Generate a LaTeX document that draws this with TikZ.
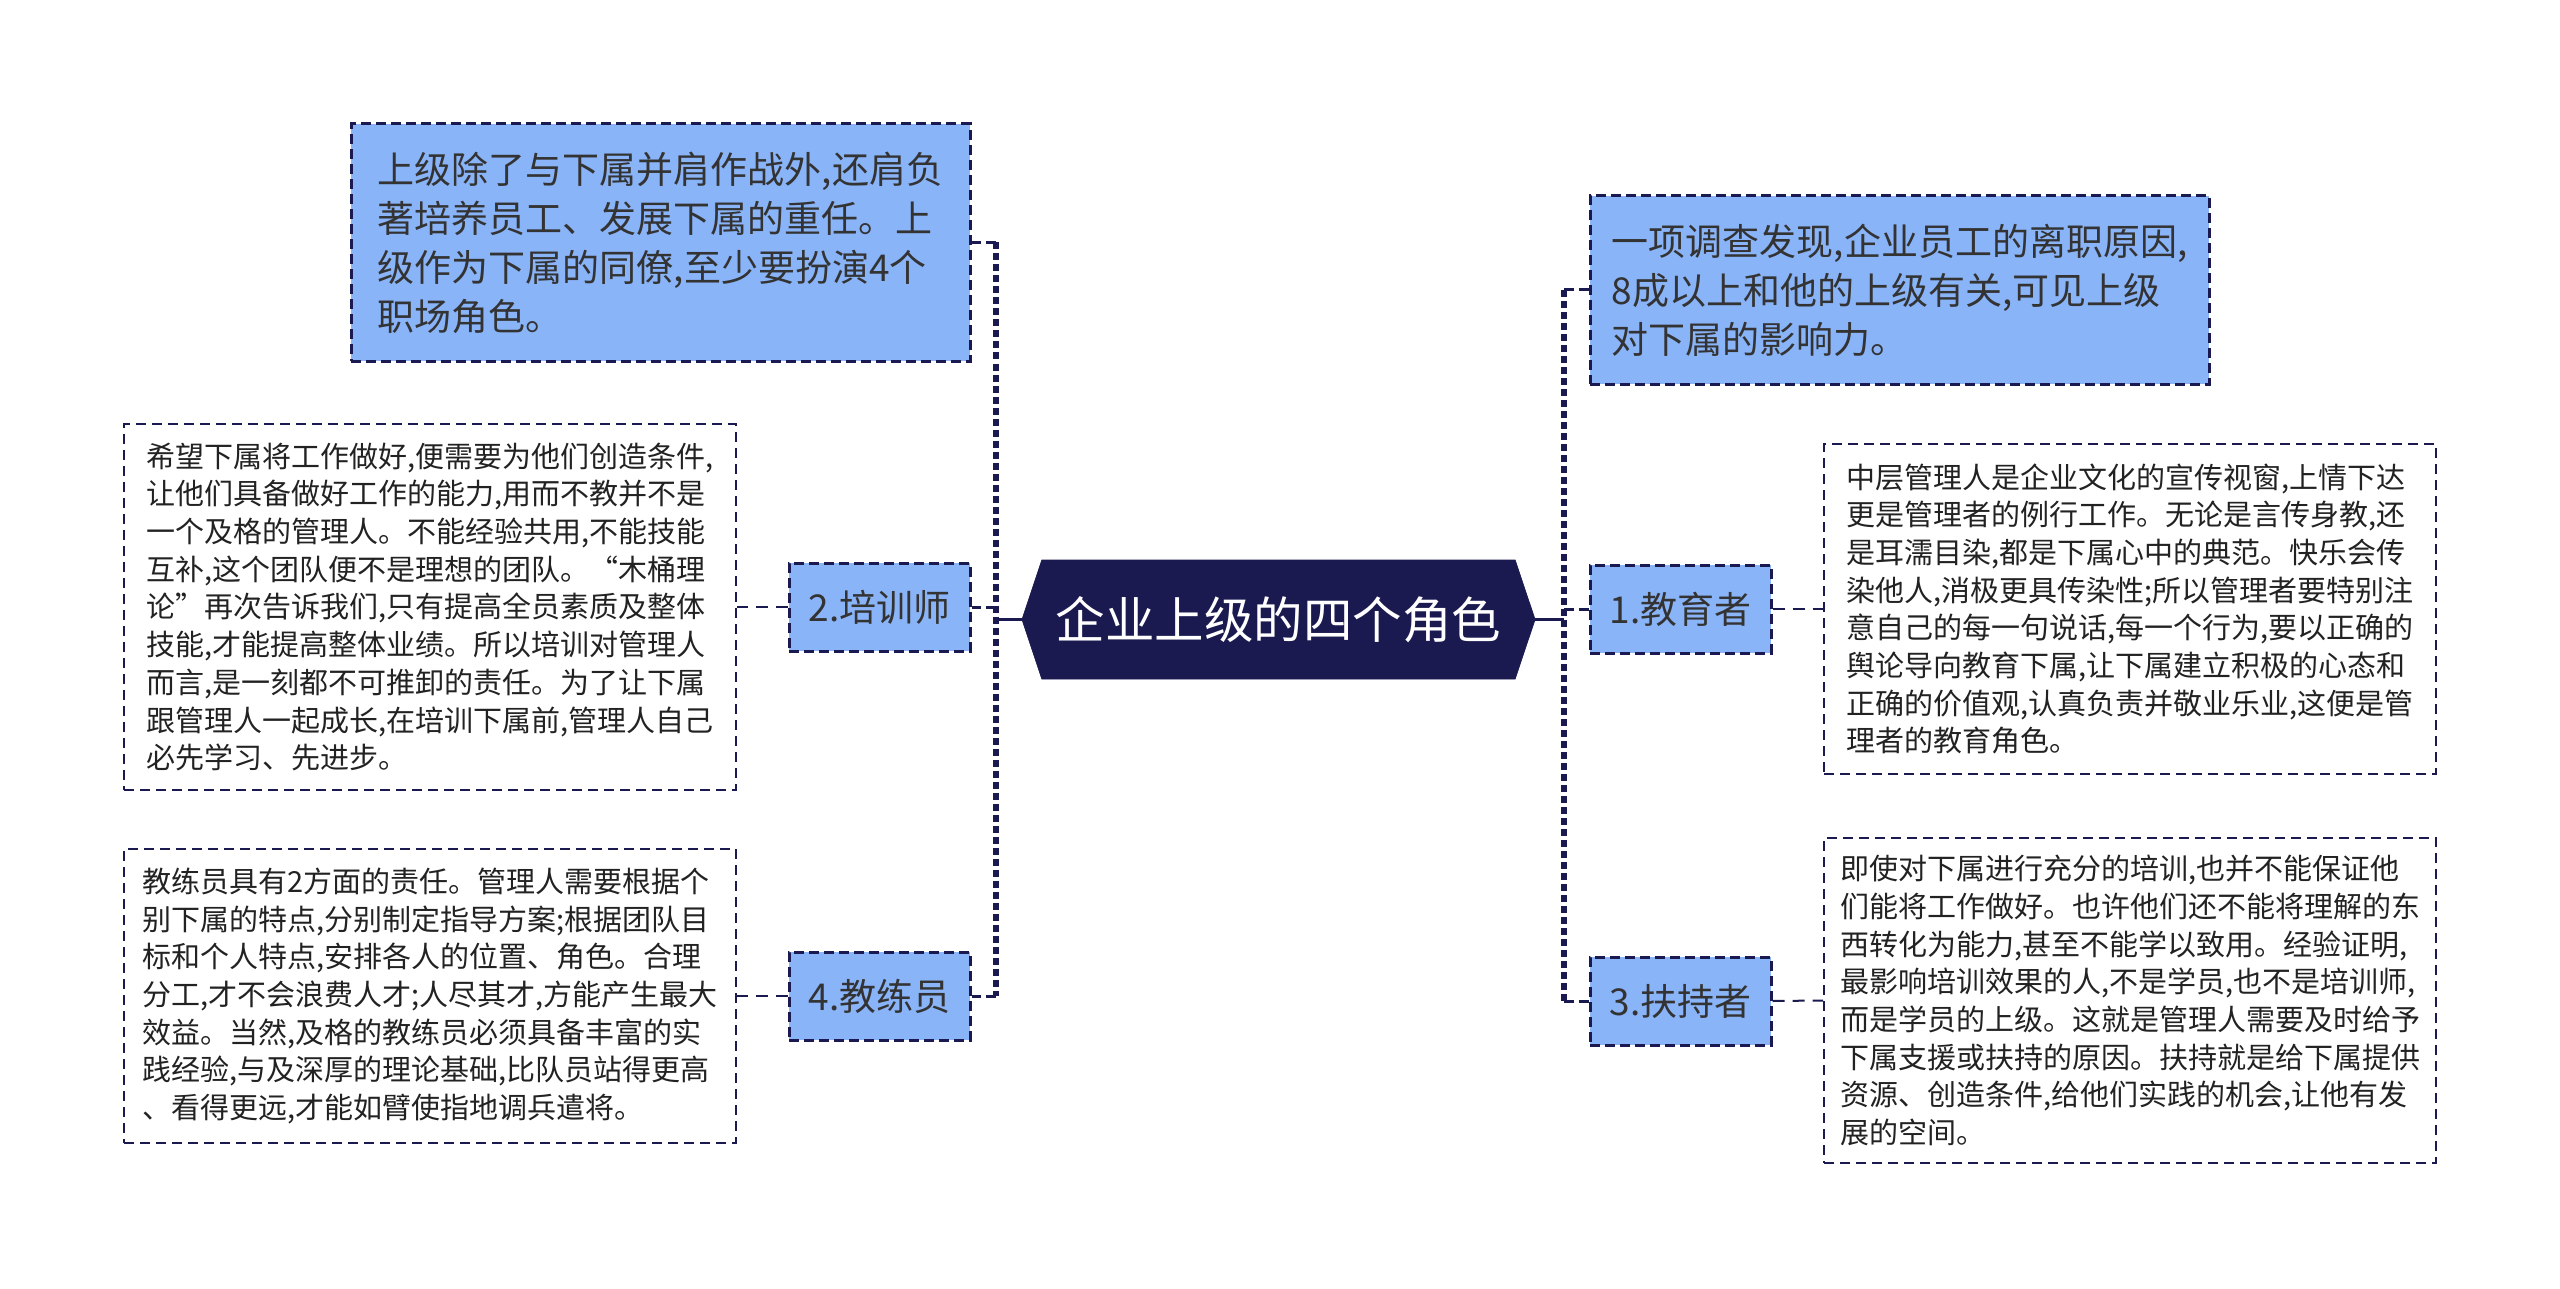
\documentclass[tikz,border=0pt]{standalone}
\usepackage{fontspec}
\usepackage{tikz}
\usetikzlibrary{shapes.symbols}
\newfontfamily\cjk{Noto Sans CJK SC}

\definecolor{navy}{HTML}{1A1A50}
\definecolor{boxblue}{HTML}{8AB4F8}
\definecolor{txtgray}{HTML}{333333}
\definecolor{txtdark}{HTML}{222222}

\tikzset{
  rootnode/.style={signal, signal to=west and east, signal pointer angle=143,
    fill=navy, draw=navy, text=white, inner sep=0pt,
    font=\cjk\fontsize{24.75pt}{30pt}\selectfont,
    minimum width=256.5pt, minimum height=59.5pt},
  bluebox/.style={rectangle, fill=boxblue, draw=navy, line width=1.5pt,
    dash pattern=on 5pt off 2.5pt, text=txtgray, align=left, inner sep=0pt,
    font=\cjk\fontsize{18.5pt}{24.5pt}\selectfont},
  rolenode/.style={bluebox, minimum width=90.5pt, minimum height=44pt},
  notebox/.style={rectangle, fill=white, draw=navy, line width=1pt,
    dash pattern=on 5pt off 3pt, text=txtdark, align=left, inner sep=0pt,
    minimum width=306pt, font=\cjk\fontsize{14.5pt}{18.85pt}\selectfont},
  trunk/.style={draw=navy, line width=1.8pt},
  spine/.style={draw=navy, line width=2.6pt, dash pattern=on 3.5pt off 2pt},
  stub/.style={draw=navy, line width=1.5pt, dash pattern=on 5pt off 2.5pt},
  leaf/.style={draw=navy, line width=1pt, dash pattern=on 6pt off 4pt}
}

\begin{document}
\begin{tikzpicture}[x=0.5pt,y=-0.5pt]
\useasboundingbox (0,0) rectangle (2560,1289);

% centre
\node[rootnode] (root) at (1278.5,619.5) {企业上级的四个角色};

% left side
\node[bluebox, minimum width=309.5pt, minimum height=118.5pt] (intro) at (660.5,242.5)
  {上级除了与下属并肩作战外,还肩负\\著培养员工、发展下属的重任。上\\级作为下属的同僚,至少要扮演4个\\职场角色。};
\node[rolenode] (trainer) at (879.5,607) {2.培训师};
\node[rolenode] (coach) at (879.5,996) {4.教练员};
\node[notebox, minimum height=183pt] (trainernote) at (430,607)
  {希望下属将工作做好,便需要为他们创造条件,\\让他们具备做好工作的能力,用而不教并不是\\一个及格的管理人。不能经验共用,不能技能\\互补,这个团队便不是理想的团队。“木桶理\\论”再次告诉我们,只有提高全员素质及整体\\技能,才能提高整体业绩。所以培训对管理人\\而言,是一刻都不可推卸的责任。为了让下属\\跟管理人一起成长,在培训下属前,管理人自己\\必先学习、先进步。};
\node[notebox, minimum height=147pt] (coachnote) at (430,996)
  {教练员具有2方面的责任。管理人需要根据个\\别下属的特点,分别制定指导方案;根据团队目\\标和个人特点,安排各人的位置、角色。合理\\分工,才不会浪费人才;人尽其才,方能产生最大\\效益。当然,及格的教练员必须具备丰富的实\\践经验,与及深厚的理论基础,比队员站得更高\\、看得更远,才能如臂使指地调兵遣将。};

% right side
\node[bluebox, minimum width=309.5pt, minimum height=94pt] (survey) at (1899.5,290)
  {一项调查发现,企业员工的离职原因,\\8成以上和他的上级有关,可见上级\\对下属的影响力。};
\node[rolenode] (educator) at (1680.5,609) {1.教育者};
\node[rolenode] (supporter) at (1680.5,1001) {3.扶持者};
\node[notebox, minimum height=165pt] (educatornote) at (2130,609)
  {中层管理人是企业文化的宣传视窗,上情下达\\更是管理者的例行工作。无论是言传身教,还\\是耳濡目染,都是下属心中的典范。快乐会传\\染他人,消极更具传染性;所以管理者要特别注\\意自己的每一句说话,每一个行为,要以正确的\\舆论导向教育下属,让下属建立积极的心态和\\正确的价值观,认真负责并敬业乐业,这便是管\\理者的教育角色。};
\node[notebox, minimum height=162.5pt] (supporternote) at (2130,1000.5)
  {即使对下属进行充分的培训,也并不能保证他\\们能将工作做好。也许他们还不能将理解的东\\西转化为能力,甚至不能学以致用。经验证明,\\最影响培训效果的人,不是学员,也不是培训师,\\而是学员的上级。这就是管理人需要及时给予\\下属支援或扶持的原因。扶持就是给下属提供\\资源、创造条件,给他们实践的机会,让他有发\\展的空间。};

% spines
\coordinate (ls) at (996,619.5);
\coordinate (rs) at (1564,619.5);
\draw[trunk] (root.west) -- (ls);
\draw[trunk] (root.east) -- (rs);
\draw[spine] (ls |- intro.east) -- (ls |- coach.east);
\draw[spine] (rs |- survey.west) -- (rs |- supporter.west);

% branches
\draw[stub] (ls |- intro.east) -- (intro.east);
\draw[stub] (ls |- trainer.east) -- (trainer.east);
\draw[stub] (ls |- coach.east) -- (coach.east);
\draw[stub] (rs |- survey.west) -- (survey.west);
\draw[stub] (rs |- educator.west) -- (educator.west);
\draw[stub] (rs |- supporter.west) -- (supporter.west);

% notes
\draw[leaf] (trainer.west) -- (trainernote.east);
\draw[leaf] (coach.west) -- (coachnote.east);
\draw[leaf] (educator.east) -- (educatornote.west);
\draw[leaf] (supporter.east) -- (supporternote.west);
\end{tikzpicture}
\end{document}
